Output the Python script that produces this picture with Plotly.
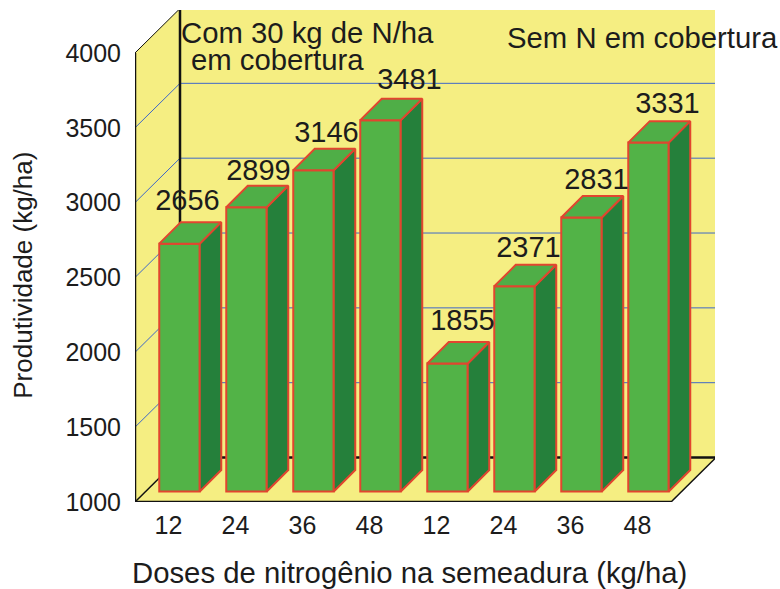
import plotly.graph_objects as go

doses = ["12", "24", "36", "48", "12", "24", "36", "48"]
produtividade = [2656, 2899, 3146, 3481, 1855, 2371, 2831, 3331]
y_ticks = [1000, 1500, 2000, 2500, 3000, 3500, 4000]

# Geometry of the oblique projection (pixels on the page)
PX_LEFT, PX_RIGHT, PX_TOP, PX_BOTTOM = 135, 715, 10, 502.5
SLOT = 67.0            # px per category on the front edge
PX_PER_UNIT = 449.5 / 3000
WALL = 45.0            # depth of chart box, px
BAR_OFF_X, BAR_OFF_Y = 11.0, 10.5
BAR_W = 40.5
DEPTH = 21.5

def dx(px): return px / SLOT
def dy(px): return px / PX_PER_UNIT
def paper_x(px): return (px - PX_LEFT) / (PX_RIGHT - PX_LEFT)
def paper_y(px): return (PX_BOTTOM - px) / (PX_BOTTOM - PX_TOP)

WALL_X, WALL_Y = dx(WALL), dy(44.5)
N = len(doses)
YMIN = 1000

# Hand placement of value labels relative to the bar's centre (px)
label_nudge_x = [8, 12, 13, 29, 15, 14, 15, 19]
label_nudge_y = [41, 35, 36, 38, 41, 37, 36, 37]

WALLC, FRONT, SIDE, TOPC, EDGE = "#F5EE82", "#52B347", "#25803B", "#4FAE47", "#E2452F"
FONT = "Liberation Sans"
INK = "#1c1c1c"

shapes = []
def poly(xs, ys, fill):
    path = "M " + " L ".join(f"{a},{b}" for a, b in zip(xs, ys)) + " Z"
    shapes.append(dict(type="path", path=path, xref="x", yref="y", fillcolor=fill,
                       line=dict(color="rgba(0,0,0,0)", width=0), layer="below"))
def seg(x0, y0, x1, y1, color, w):
    shapes.append(dict(type="line", x0=x0, y0=y0, x1=x1, y1=y1, xref="x", yref="y",
                       line=dict(color=color, width=w), layer="below"))

ymax_front = y_ticks[-1]
# walls and floor
poly([WALL_X, N + WALL_X, N + WALL_X, WALL_X],
     [YMIN + WALL_Y, YMIN + WALL_Y, ymax_front + WALL_Y, ymax_front + WALL_Y], WALLC)
poly([0, WALL_X, WALL_X, 0], [YMIN, YMIN + WALL_Y, ymax_front + WALL_Y, ymax_front], WALLC)
poly([0, N, N + WALL_X, WALL_X], [YMIN, YMIN, YMIN + WALL_Y, YMIN + WALL_Y], WALLC)

# gridlines
BLUE = "#3F68C8"
for t in y_ticks[1:-1]:
    seg(WALL_X, t + WALL_Y, N + WALL_X, t + WALL_Y, BLUE, 1)
    seg(0, t, WALL_X, t + WALL_Y, BLUE, 1)

# box edges that sit behind the bars
K = "#111111"
seg(WALL_X, YMIN + WALL_Y, WALL_X, ymax_front + WALL_Y, K, 2.5)
seg(WALL_X, YMIN + WALL_Y, N + WALL_X, YMIN + WALL_Y, K, 2.5)
seg(0, YMIN, WALL_X, YMIN + WALL_Y, K, 1.5)
seg(N, YMIN, N + WALL_X, YMIN + WALL_Y, K, 1.5)
seg(0, ymax_front, WALL_X, ymax_front + WALL_Y, K, 1)

centers = [i + 0.5 + dx(BAR_OFF_X) for i in range(N)]
base = YMIN + dy(BAR_OFF_Y)

fig = go.Figure()
fig.add_trace(go.Bar(x=centers, y=[v - YMIN for v in produtividade], base=base,
                     width=dx(BAR_W), marker=dict(color=FRONT, line=dict(color=EDGE, width=2)),
                     showlegend=False, hoverinfo="skip"))

# box edges on the plot-area border: traces, so that they are not clipped in half
for xs, ys, color, w in [
    ([0, 0], [ymax_front, YMIN], K, 2.5),
    ([0, N], [YMIN, YMIN], K, 2.5),
    ([WALL_X, N + WALL_X], [ymax_front + WALL_Y] * 2, K, 1),
    ([N + WALL_X, N + WALL_X], [YMIN + WALL_Y, ymax_front + WALL_Y], "#4a4a30", 1),
]:
    fig.add_trace(go.Scatter(x=xs, y=ys, mode="lines", line=dict(color=color, width=w),
                             cliponaxis=False, showlegend=False, hoverinfo="skip"))

hw, d, dv = dx(BAR_W) / 2, dx(DEPTH), dy(DEPTH)
for c, v in zip(centers, produtividade):
    top = v + dy(BAR_OFF_Y)
    fig.add_trace(go.Scatter(x=[c + hw, c + hw + d, c + hw + d, c + hw, c + hw],
                             y=[base, base + dv, top + dv, top, base],
                             mode="lines", fill="toself", fillcolor=SIDE,
                             line=dict(color=EDGE, width=2), showlegend=False, hoverinfo="skip"))
    fig.add_trace(go.Scatter(x=[c - hw, c - hw + d, c + hw + d, c + hw, c - hw],
                             y=[top, top + dv, top + dv, top, top],
                             mode="lines", fill="toself", fillcolor=TOPC,
                             line=dict(color=EDGE, width=2), showlegend=False, hoverinfo="skip"))

fig.add_trace(go.Scatter(
    x=[c + dx(n) for c, n in zip(centers, label_nudge_x)],
    y=[v + dy(BAR_OFF_Y) + dy(n) for v, n in zip(produtividade, label_nudge_y)],
    text=[str(v) for v in produtividade], mode="text", textposition="middle center",
    textfont=dict(family=FONT, size=29, color=INK), showlegend=False, hoverinfo="skip",
    cliponaxis=False))

def note(text, px, py, size=29.3, anchor="left", angle=0):
    return dict(text=text, x=paper_x(px), y=paper_y(py), xref="paper", yref="paper",
                xanchor=anchor, yanchor="middle", showarrow=False, textangle=angle,
                font=dict(family=FONT, size=size, color=INK))

fig.update_layout(
    width=780, height=589, autosize=False,
    paper_bgcolor="white", plot_bgcolor="rgba(0,0,0,0)",
    margin=dict(l=PX_LEFT, r=780 - PX_RIGHT, t=PX_TOP, b=589 - PX_BOTTOM,
                pad=0, autoexpand=False),
    shapes=shapes,
    annotations=[note("Com 30 kg de N/ha", 178.5, 33), note("em cobertura", 188.5, 60),
                 note("Sem N em cobertura", 505, 38),
                 note("Doses de nitrogênio na semeadura (kg/ha)", 409, 573, 29.3, "center"),
                 note("Produtividade (kg/ha)", 23, 276, 26, "center", -90)],
    xaxis=dict(range=[0, (PX_RIGHT - PX_LEFT) / SLOT], tickmode="array",
               tickvals=[i + 0.5 for i in range(N)], ticktext=doses, showgrid=False,
               showline=False, zeroline=False, ticks="outside", ticklen=1,
               tickcolor="rgba(0,0,0,0)", tickfont=dict(family=FONT, size=25, color=INK)),
    yaxis=dict(range=[YMIN, YMIN + (PX_BOTTOM - PX_TOP) / PX_PER_UNIT], tickmode="array",
               tickvals=y_ticks, ticktext=[str(t) for t in y_ticks], showgrid=False,
               showline=False, zeroline=False, ticks="outside", ticklen=8,
               tickcolor="rgba(0,0,0,0)", tickfont=dict(family=FONT, size=25, color=INK)),
)
fig.write_html("out.html", config={"displayModeBar": False},
               post_script="document.body.style.margin='0';")
